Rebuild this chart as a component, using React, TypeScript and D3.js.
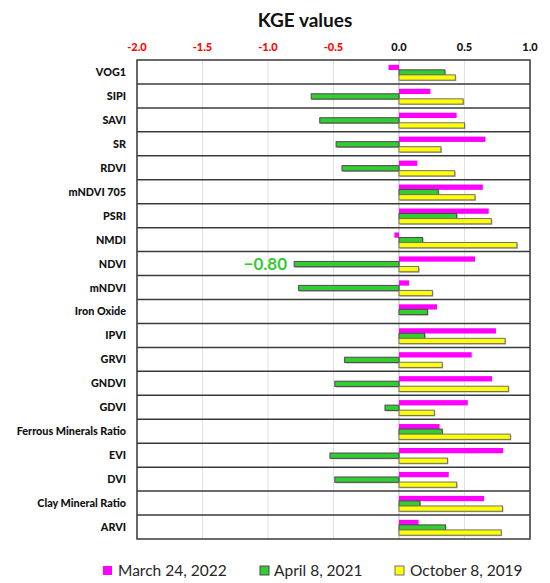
import React from "react";
import * as d3 from "d3";

const categories = [
  "VOG1", "SIPI", "SAVI", "SR", "RDVI", "mNDVI 705", "PSRI", "NMDI", "NDVI", "mNDVI",
  "Iron Oxide", "IPVI", "GRVI", "GNDVI", "GDVI", "Ferrous Minerals Ratio", "EVI", "DVI",
  "Clay Mineral Ratio", "ARVI",
];

const march2022 = [
  -0.08, 0.24, 0.44, 0.66, 0.14, 0.64, 0.685, -0.035, 0.58, 0.077,
  0.29, 0.74, 0.555, 0.71, 0.525, 0.31, 0.795, 0.38, 0.65, 0.15,
];
const april2021 = [
  0.35, -0.67, -0.605, -0.48, -0.435, 0.3, 0.44, 0.18, -0.8, -0.766,
  0.217, 0.196, -0.415, -0.49, -0.107, 0.33, -0.527, -0.49, 0.16, 0.355,
];
const october2019 = [
  0.43, 0.49, 0.5, 0.32, 0.425, 0.58, 0.705, 0.9, 0.15, 0.255,
  null, 0.81, 0.33, 0.835, 0.27, 0.85, 0.37, 0.44, 0.79, 0.78,
];

const seriesNames = ["March 24, 2022", "April 8, 2021", "October 8, 2019"];
const ticks = [-2, -1.5, -1, -0.5, 0, 0.5, 1];

const W = 550;
const H = 583;
const left = 137;
const right = 530;
const top = 60;
const bottom = 539;
const FONT = "Lato, 'Open Sans', 'Liberation Sans', sans-serif";

const series = [
  { name: seriesNames[0], values: march2022, fill: "#ff00ff", stroke: "none" },
  { name: seriesNames[1], values: april2021, fill: "#33cc33", stroke: "#4a4a4a" },
  { name: seriesNames[2], values: october2019, fill: "#ffff00", stroke: "#707070" },
];

export default function App() {
  const x = d3.scaleLinear().domain([-2, 1]).range([left, right]);
  const y = d3.scaleBand<string>().domain(categories).range([top, bottom]);
  const inner = d3
    .scaleBand<number>()
    .domain([0, 1, 2])
    .range([4.8, y.bandwidth() - 3.8])
    .paddingInner(-0.05);

  const legendItems = [
    { x: 103, textX: 118 },
    { x: 260, textX: 274 },
    { x: 395, textX: 410 },
  ];

  return (
    <div style={{ position: "absolute", left: 0, top: 0 }}>
      <svg width={W} height={H} style={{ display: "block", background: "#fff" }}>
        <text x={305} y={27} textAnchor="middle" fontFamily={FONT} fontWeight="bold" fontSize={19} fill="#111">
          KGE values
        </text>
        {ticks.map((t) => (
          <g key={t}>
            <text
              x={x(t)}
              y={51}
              textAnchor="middle"
              fontFamily={FONT}
              fontWeight="900"
              fontSize={11}
              fill={t < 0 ? "#ff0000" : "#111"}
            >
              {t.toFixed(1)}
            </text>
            <line x1={x(t)} x2={x(t)} y1={top} y2={bottom} stroke="#e0e0e0" strokeWidth={1} />
          </g>
        ))}
        <line x1={x(0)} x2={x(0)} y1={top} y2={bottom} stroke="#c8c8c8" strokeWidth={1} />
        {categories.map((c, i) => (
          <g key={c}>
            <text
              x={126}
              y={(y(c) ?? 0) + y.bandwidth() / 2 + 4}
              textAnchor="end"
              fontFamily={FONT}
              fontWeight="900"
              fontSize={10.8}
              fill="#111"
            >
              {c}
            </text>
            {i > 0 && (
              <line x1={left} x2={right} y1={y(c)} y2={y(c)} stroke="#3a3a3a" strokeWidth={1.5} />
            )}
          </g>
        ))}
        {series.map((s, si) =>
          s.values.map((v, i) => {
            if (v === null) return null;
            const y0 = (y(categories[i]) ?? 0) + (inner(si) ?? 0);
            const x0 = Math.min(x(0), x(v));
            const w = Math.abs(x(v) - x(0));
            return (
              <g key={`${si}-${i}`}>
                {s.stroke !== "none" && (
                  <rect x={x0 + 1} y={y0 + 1} width={w} height={inner.bandwidth()} fill="#b0b0b0" />
                )}
                <rect
                  x={x0}
                  y={y0}
                  width={w}
                  height={inner.bandwidth()}
                  fill={s.fill}
                  stroke={s.stroke}
                  strokeWidth={s.stroke === "none" ? 0 : 1}
                />
              </g>
            );
          })
        )}
        <rect x={left} y={top} width={right - left} height={bottom - top} fill="none" stroke="#3a3a3a" strokeWidth={1.5} />
        <text
          x={287}
          y={270}
          textAnchor="end"
          fontFamily={FONT}
          fontWeight="bold"
          fontSize={17}
          fill="#33cc33"
        >
          −0.80
        </text>
        {series.map((s, si) => (
          <g key={s.name}>
            <rect
              x={legendItems[si].x}
              y={566}
              width={9}
              height={9}
              fill={s.fill}
              stroke={s.stroke === "none" ? "none" : s.stroke}
              strokeWidth={1}
            />
            <text x={legendItems[si].textX} y={576} fontFamily={FONT} fontSize={15.5} fill="#262626">
              {s.name}
            </text>
          </g>
        ))}
      </svg>
    </div>
  );
}
